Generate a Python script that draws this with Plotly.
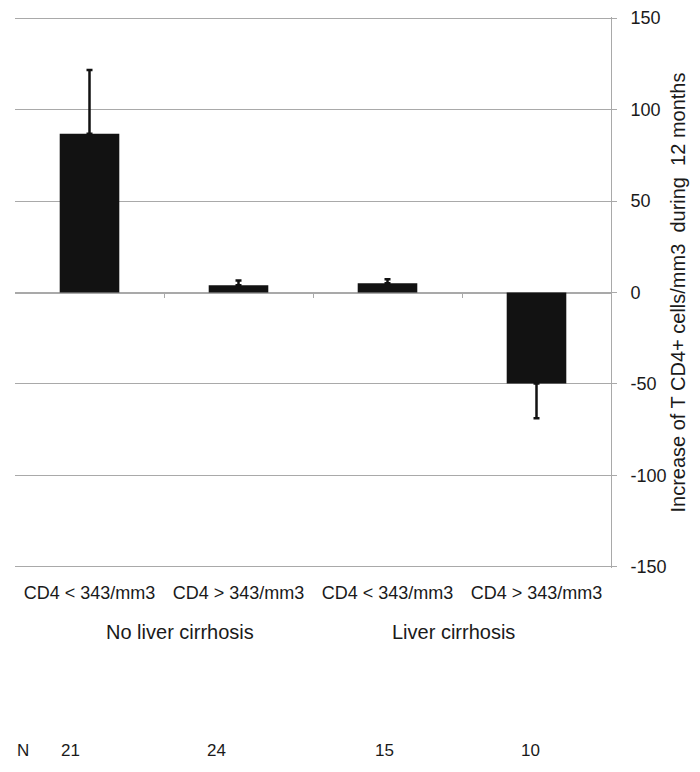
import plotly.graph_objects as go

# ---- data ----
categories = ["CD4 < 343/mm3", "CD4 > 343/mm3", "CD4 < 343/mm3", "CD4 > 343/mm3"]
groups = ["No liver cirrhosis", "Liver cirrhosis"]
n_values = ["21", "24", "15", "10"]
mean_increase = [86.8, 4.0, 5.0, -49.8]
error_values = [34.8, 2.5, 2.3, 19.0]
y_ticks = [-150, -100, -50, 0, 50, 100, 150]
y_tick_labels = ["-150", "-100", "-50", "0", "50", "100", "150"]
y_title = "Increase of T CD4+ cells/mm3  during  12 months"

# ---- layout constants ----
x_idx = list(range(len(categories)))
group_x = [0.607, 2.443]
n_label_x = [-0.205, 0.775, 1.903, 2.883]
FONT = "Liberation Sans, Arial, sans-serif"
GRID = "#a9a9a9"
TXT = "#1a1a1a"

err_up = [e if m > 0 else 0 for m, e in zip(mean_increase, error_values)]
err_down = [e if m < 0 else 0 for m, e in zip(mean_increase, error_values)]

fig = go.Figure()
fig.add_trace(go.Bar(
    x=x_idx, y=mean_increase, width=0.4,
    marker=dict(color="#121212", line=dict(width=0)),
    error_y=dict(type="data", symmetric=False, array=err_up, arrayminus=err_down,
                 color="#121212", thickness=2.5, width=3),
    showlegend=False, hoverinfo="skip",
))
# helper trace for the zero-line axis with boundary ticks
fig.add_trace(go.Scatter(x=[0.5], y=[0], xaxis="x2", mode="markers",
                         marker=dict(opacity=0), showlegend=False, hoverinfo="skip"))

annotations = []
for gx, g in zip(group_x, groups):
    annotations.append(dict(x=gx, y=-0.116, xref="x", yref="paper", text=g,
                            showarrow=False, xanchor="center", yanchor="middle",
                            font=dict(family=FONT, size=20, color=TXT)))
annotations.append(dict(x=-0.5, y=-0.332, xref="x", yref="paper", text="N",
                        showarrow=False, xanchor="left", yanchor="middle",
                        font=dict(family=FONT, size=17, color=TXT)))
for nx, n in zip(n_label_x, n_values):
    annotations.append(dict(x=nx, y=-0.332, xref="x", yref="paper", text=n,
                            showarrow=False, xanchor="left", yanchor="middle",
                            font=dict(family=FONT, size=17, color=TXT)))

# page body has an 8px margin: figure is 692x764 and placed at (8, 8)
fig.update_layout(
    width=692, height=764,
    margin=dict(l=7, r=89, t=9, b=204, autoexpand=False),
    paper_bgcolor="white", plot_bgcolor="white",
    font=dict(family=FONT, color=TXT),
    bargap=0.6,
    xaxis=dict(range=[-0.5, 3.5], tickmode="array", tickvals=x_idx, ticktext=categories,
               showgrid=False, zeroline=False, showline=False, ticks="",
               tickfont=dict(family=FONT, size=18, color=TXT), ticklabelstandoff=12,
               automargin=False, fixedrange=True),
    xaxis2=dict(range=[-0.5, 3.5], overlaying="x", anchor="free", position=0.5,
                showline=True, linecolor=GRID, linewidth=1, layer="below traces",
                ticks="outside", ticklen=4, tickcolor=GRID, tickvals=[0.5, 1.5, 2.5],
                showticklabels=False, showgrid=False, zeroline=False, automargin=False),
    yaxis=dict(range=[-150.6, 150.6], side="right", tickmode="array",
               tickvals=y_ticks, ticktext=y_tick_labels,
               showgrid=True, gridcolor=GRID, gridwidth=1, zeroline=False,
               showline=True, linecolor=GRID, linewidth=1,
               ticks="outside", ticklen=5, tickcolor=GRID,
               tickfont=dict(family=FONT, size=18, color=TXT), ticklabelstandoff=10,
               ticklabeloverflow="allow", automargin=False,
               title=dict(text=y_title, font=dict(family=FONT, size=20, color=TXT), standoff=4)),
    annotations=annotations,
)

fig.write_html("out.html")
